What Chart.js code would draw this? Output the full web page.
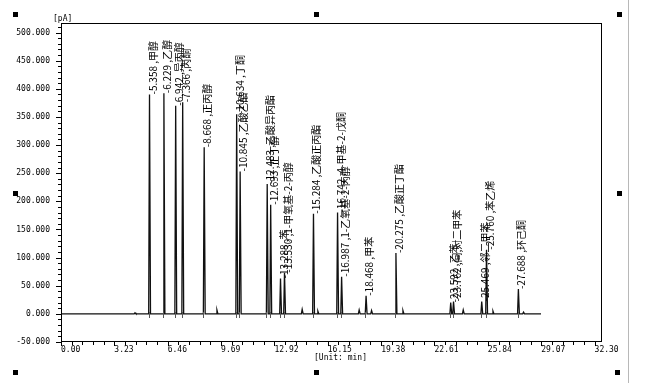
<!DOCTYPE html>
<html><head><meta charset="utf-8">
<script src="https://cdn.jsdelivr.net/npm/chart.js@4/dist/chart.umd.min.js"></script>
<style>
body{margin:0;background:#fff}
#wrap{position:relative;width:650px;height:383px;overflow:hidden}
.h{position:absolute;width:5px;height:5px;background:#000}
#edge{position:absolute;left:628px;top:0;width:1px;height:383px;background:#b8b8b8}
canvas{position:absolute;left:0;top:0}
</style>
</head><body>
<div id="wrap">
<canvas id="c" width="650" height="383"></canvas>
<div class="h" style="left:13px;top:12px"></div>
<div class="h" style="left:314px;top:12px"></div>
<div class="h" style="left:617px;top:12px"></div>
<div class="h" style="left:13px;top:191px"></div>
<div class="h" style="left:617px;top:191px"></div>
<div class="h" style="left:13px;top:370px"></div>
<div class="h" style="left:314px;top:370px"></div>
<div class="h" style="left:615px;top:370px"></div>
<div id="edge"></div>
</div>
<script>
// ---- data ----
const peakTimes   = [5.358, 6.229, 6.942, 7.366, 8.668, 10.634, 10.845, 12.483, 12.693, 13.288, 13.530, 15.284, 16.742, 16.987, 18.468, 20.275, 23.592, 23.762, 25.469, 25.760, 27.688];
const peakHeights = [390, 392, 370, 376, 296, 355, 253, 231, 194, 63, 73, 178, 180, 66, 32, 108, 20, 22, 22, 114, 44];
const peakNames   = ['甲醇','乙醇','异丙醇','丙酮','正丙醇','丁酮','乙酸乙酯','乙酸异丙酯','正丁醇','苯','1-甲氧基-2-丙醇','乙酸正丙酯','4-甲基-2-戊酮','1-乙氧基-2-丙醇','甲苯','乙酸正丁酯','乙苯','间,对二甲苯','邻二甲苯','苯乙烯','环己酮'];
const smallTimes   = [4.48, 9.44, 14.60, 15.55, 18.05, 18.80, 20.70, 24.35, 26.15, 28.00];
const smallHeights = [2, 7, 8, 5, 7, 6, 6, 7, 5, 3];
const runEnd = 29.06;
const xTickValues = [0, 3.23, 6.46, 9.69, 12.92, 16.15, 19.38, 22.61, 25.84, 29.07, 32.30];
const xTickLabels = ['0.00','3.23','6.46','9.69','12.92','16.15','19.38','22.61','25.84','29.07','32.30'];
const yTickValues = [-50, 0, 50, 100, 150, 200, 250, 300, 350, 400, 450, 500];
const yTickLabels = ['-50.000','0.000','50.000','100.000','150.000','200.000','250.000','300.000','350.000','400.000','450.000','500.000'];

// ---- build the trace table from the peak lists ----
const events = [];
peakTimes.forEach((t, i) => events.push([t, peakHeights[i]]));
smallTimes.forEach((t, i) => events.push([t, smallHeights[i]]));
events.sort((a, b) => a[0] - b[0]);
const trace = [{x: 0, y: 0}];
events.forEach(([t, h]) => { trace.push({x: t - 0.05, y: 0}, {x: t, y: h}, {x: t + 0.06, y: 0}); });
trace.push({x: runEnd, y: 0});

const MONO = '"DejaVu Sans Mono", monospace';

const decor = {
  id: 'decor',
  afterDatasetsDraw(chart) {
    const {ctx, chartArea: a, scales: {x, y}} = chart;
    ctx.save();
    // integration marks below baseline at each peak start
    ctx.strokeStyle = '#555';
    ctx.lineWidth = 1;
    ctx.beginPath();
    const y0 = Math.round(y.getPixelForValue(0));
    peakTimes.forEach(t => {
      const px = Math.round(x.getPixelForValue(t - 0.05)) + 0.5;
      ctx.moveTo(px, y0 - 2); ctx.lineTo(px, y0 + 4);
    });
    ctx.stroke();
    // peak labels
    ctx.font = '10px "Noto Sans CJK SC", sans-serif';
    ctx.fillStyle = '#000';
    ctx.textBaseline = 'middle';
    ctx.textAlign = 'left';
    peakTimes.forEach((t, i) => {
      const px = x.getPixelForValue(t), py = y.getPixelForValue(peakHeights[i]);
      ctx.save();
      ctx.translate(Math.round(px) + 3, py);
      ctx.rotate(-Math.PI / 2);
      ctx.fillText('-' + t.toFixed(3) + ' ,' + peakNames[i], 0, 0);
      ctx.restore();
    });
    // frame
    ctx.strokeStyle = '#000';
    ctx.lineWidth = 1;
    ctx.strokeRect(Math.round(a.left) + 0.5, Math.round(a.top) + 0.5, Math.round(a.right - a.left) - 1, Math.round(a.bottom - a.top) - 1);
    // x ticks
    ctx.beginPath();
    for (let i = 0; i < xTickValues.length; i++) {
      const v = xTickValues[i];
      const px = Math.round(x.getPixelForValue(v)) + 0.5;
      ctx.moveTo(px, a.bottom); ctx.lineTo(px, a.bottom + 4);
      if (i < xTickValues.length - 1) {
        const step = (xTickValues[i + 1] - v) / 5;
        for (let k = 1; k < 5; k++) {
          const mx = Math.round(x.getPixelForValue(v + k * step)) + 0.5;
          ctx.moveTo(mx, a.bottom); ctx.lineTo(mx, a.bottom + 3);
        }
      }
    }
    // y ticks
    for (let i = 0; i < yTickValues.length; i++) {
      const v = yTickValues[i];
      const py = Math.round(y.getPixelForValue(v)) + 0.5;
      ctx.moveTo(a.left - 5, py); ctx.lineTo(a.left, py);
      const next = i < yTickValues.length - 1 ? yTickValues[i + 1] : y.max;
      for (let m = v + 10; m < next; m += 10) {
        const my = Math.round(y.getPixelForValue(m)) + 0.5;
        ctx.moveTo(a.left - 3, my); ctx.lineTo(a.left, my);
      }
    }
    ctx.stroke();
    // axis titles
    ctx.font = '8px ' + MONO;
    ctx.textBaseline = 'middle';
    ctx.textAlign = 'left';
    ctx.fillText('[pA]', a.left - 8, a.top - 4);
    ctx.textAlign = 'center';
    ctx.fillText('[Unit: min]', (a.left + a.right) / 2 + 9, a.bottom + 16);
    ctx.restore();
  }
};

new Chart(document.getElementById('c'), {
  type: 'line',
  data: {
    datasets: [{
      data: trace,
      borderColor: '#111',
      borderWidth: 1.3,
      pointRadius: 0,
      tension: 0,
      fill: false
    }]
  },
  options: {
    responsive: false,
    animation: false,
    layout: {padding: {left: 0, top: 23, right: 48, bottom: 0}},
    plugins: {legend: {display: false}, tooltip: {enabled: false}},
    scales: {
      x: {
        type: 'linear', min: 0, max: 32.75,
        grid: {display: false, drawTicks: false}, border: {display: false},
        afterBuildTicks: s => { s.ticks = xTickValues.map(v => ({value: v})); },
        afterFit: s => { s.height = 41; },
        ticks: {
          align: 'start', padding: 3, maxRotation: 0, autoSkip: false,
          color: '#000', font: {family: MONO, size: 8},
          callback: (v, i) => xTickLabels[i]
        }
      },
      y: {
        type: 'linear', min: -50, max: 517,
        grid: {display: false, drawTicks: false}, border: {display: false},
        afterBuildTicks: s => { s.ticks = yTickValues.map(v => ({value: v})); },
        afterFit: s => { s.width = 61; },
        ticks: {
          padding: 11, autoSkip: false,
          color: '#000', font: {family: MONO, size: 8},
          callback: (v, i) => yTickLabels[i]
        }
      }
    }
  },
  plugins: [decor]
});
</script>
</body></html>
